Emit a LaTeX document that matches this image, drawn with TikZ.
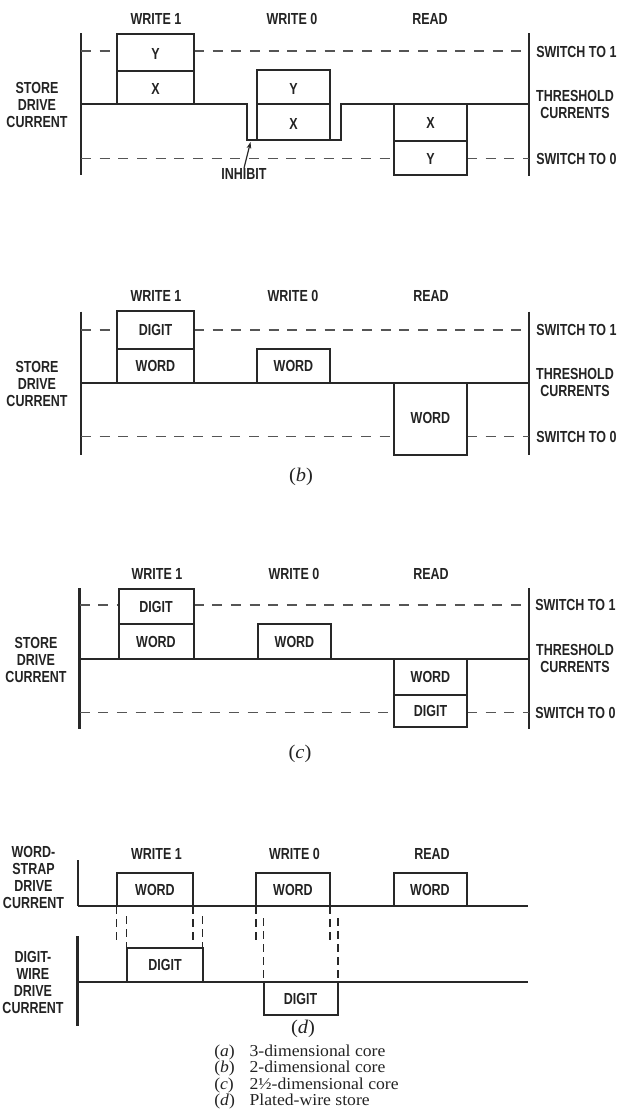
\documentclass[tikz,border=0pt]{standalone}
\usepackage{fontspec}
\usepackage{xcolor}
\usetikzlibrary{arrows.meta}
\newfontfamily\lblfont[FakeStretch=0.78]{Liberation Sans}
\newfontfamily\capfont[FakeStretch=1.06]{Liberation Serif}
\definecolor{ink}{RGB}{35,35,35}
\definecolor{trace}{RGB}{40,40,40}
\definecolor{lvlgray}{RGB}{85,85,85}

\begin{document}
\begin{tikzpicture}[x=0.75pt, y=-0.75pt,
    every node/.style={font={\lblfont\bfseries\fontsize{12}{12.75}\selectfont}, text=ink, inner sep=0pt},
    multi/.style={align=center},
    side/.style={anchor=west},
    fig/.style={font={\capfont\fontsize{14.5}{15}\selectfont}},
    axis/.style={line width=1.8pt, trace},
    wave/.style={line width=1.5pt, trace},
    lvl/.style={line width=1.3pt, lvlgray, dash pattern=on 7.5pt off 6.5pt},
    cue/.style={line width=1.3pt, trace, dash pattern=on 6pt off 3.75pt},
    arr/.style={-{Stealth[length=5pt, width=3.5pt]}, line width=0.9pt, trace}]
  \useasboundingbox (0,0) rectangle (620,1111);

  % (a)
  \draw[axis] (81,33) -- (81,175);
  \draw[axis] (529,33) -- (529,176);
  \draw[lvl] (81,51) -- (117,51) (194,51) -- (529,51);
  \draw[lvl] (81,158.5) -- (394,158.5) (467,158.5) -- (529,158.5);
  \draw[wave] (81,104) -- (247,104) -- (247,140) -- (257,140);
  \draw[wave] (330,140) -- (341,140) -- (341,104) -- (529,104);
  \draw[wave] (117,34) rectangle (194,104) (117,71) -- (194,71);
  \draw[wave] (257,70) rectangle (330,140) (257,104) -- (330,104);
  \draw[wave] (394,104) rectangle (467,175) (394,141) -- (467,141);
  \node (ya1) at (155.5,54) {Y};
  \node (xa1) at (155.5,89) {X};
  \node (ya0) at (293.5,88.5) {Y};
  \node (xa0) at (293.5,123.5) {X};
  \node (xar) at (430.5,123) {X};
  \node (yar) at (430.5,159) {Y};
  \node (w1a) at (156,19) {WRITE 1};
  \node (w0a) at (292,19) {WRITE 0};
  \node (rda) at (430,18.5) {READ};
  \node[multi] (sda) at (37,105) {STORE\\DRIVE\\CURRENT};
  \node[side] (s1a) at (536,51.5) {SWITCH TO 1};
  \node[multi] (tha) at (575,104) {THRESHOLD\\CURRENTS};
  \node[side] (s0a) at (536,158.5) {SWITCH TO 0};
  \node (inh) at (244,174) {INHIBIT};
  \coordinate (notch) at (250.5,142);
  \draw[arr] (inh.north) -- (notch);

  % (b)
  \draw[axis] (81,311.5) -- (81,455);
  \draw[axis] (529,311.5) -- (529,455);
  \draw[lvl] (81,330) -- (117,330) (194,330) -- (529,330);
  \draw[lvl] (81,436.5) -- (394,436.5) (467,436.5) -- (529,436.5);
  \draw[wave] (81,382.5) -- (529,382.5);
  \draw[wave] (117,311) rectangle (194,382.5) (117,349) -- (194,349);
  \draw[wave] (257,348.5) rectangle (330,382.5);
  \draw[wave] (394,382.5) rectangle (467,454.5);
  \node (dgb1) at (155.5,330) {DIGIT};
  \node (wdb1) at (155.5,366) {WORD};
  \node (wdb0) at (293.5,366) {WORD};
  \node (wdbr) at (430.5,418) {WORD};
  \node (w1b) at (156,296) {WRITE 1};
  \node (w0b) at (293,296) {WRITE 0};
  \node (rdb) at (431,296) {READ};
  \node[multi] (sdb) at (37,384) {STORE\\DRIVE\\CURRENT};
  \node[side] (s1b) at (536,330) {SWITCH TO 1};
  \node[multi] (thb) at (575,382.5) {THRESHOLD\\CURRENTS};
  \node[side] (s0b) at (536,436.5) {SWITCH TO 0};
  \node[fig] (capb) at (301,477) {(\textit{b})};

  % (c)
  \draw[axis] (79.5,588) -- (79.5,728.5);
  \draw[axis] (529,588) -- (529,728.5);
  \draw[lvl] (79.5,605) -- (118.5,605) (193.5,605) -- (529,605);
  \draw[lvl] (79.5,712.5) -- (394,712.5) (467,712.5) -- (529,712.5);
  \draw[wave] (79.5,658.5) -- (529,658.5);
  \draw[wave] (118.5,588.5) rectangle (193.5,658.5) (118.5,624) -- (193.5,624);
  \draw[wave] (258,624) rectangle (331,658.5);
  \draw[wave] (394,658.5) rectangle (467,726.5) (394,694.5) -- (467,694.5);
  \node (dgc1) at (156,606.5) {DIGIT};
  \node (wdc1) at (156,641.5) {WORD};
  \node (wdc0) at (294.5,641.5) {WORD};
  \node (wdcr) at (430.5,676.5) {WORD};
  \node (dgcr) at (430.5,711) {DIGIT};
  \node (w1c) at (157,574) {WRITE 1};
  \node (w0c) at (294,574) {WRITE 0};
  \node (rdc) at (431,574) {READ};
  \node[multi] (sdc) at (36,660) {STORE\\DRIVE\\CURRENT};
  \node[side] (s1c) at (535,605) {SWITCH TO 1};
  \node[multi] (thc) at (575,658) {THRESHOLD\\CURRENTS};
  \node[side] (s0c) at (535,712.5) {SWITCH TO 0};
  \node[fig] (capc) at (300,754) {(\textit{c})};

  % (d)
  \draw[axis] (78,860) -- (78,906);
  \draw[wave] (78,906) -- (528,906);
  \draw[wave] (116.5,872.5) rectangle (193,906);
  \draw[wave] (256,872.5) rectangle (330,906);
  \draw[wave] (393.5,872.5) rectangle (466.5,906);
  \draw[axis] (77.5,936) -- (77.5,1026);
  \draw[wave] (77.5,981.5) -- (528,981.5);
  \draw[wave] (126.5,947.5) rectangle (202.5,981.5);
  \draw[wave] (263.5,981.5) rectangle (338,1015);
  \draw[cue] (116.5,906) -- (116.5,940) (193,906) -- (193,940) (256,906) -- (256,940) (330,906) -- (330,940);
  \draw[cue] (126.5,916) -- (126.5,947.5) (202.5,916) -- (202.5,947.5);
  \draw[cue] (263.5,918) -- (263.5,981.5) (338,918) -- (338,981.5);
  \node (wdd1) at (155,890) {WORD};
  \node (wdd0) at (293,890) {WORD};
  \node (wddr) at (430,890) {WORD};
  \node (dgd1) at (165,965) {DIGIT};
  \node (dgd0) at (300.5,998.5) {DIGIT};
  \node (w1d) at (156.5,854) {WRITE 1};
  \node (w0d) at (294.5,854) {WRITE 0};
  \node (rdd) at (432,854) {READ};
  \node[multi] (wsd) at (33.5,877.5) {WORD-\\STRAP\\DRIVE\\CURRENT};
  \node[multi] (dwd) at (33,982) {DIGIT-\\WIRE\\DRIVE\\CURRENT};
  \node[fig] (capd) at (303,1029) {(\textit{d})};

  \node[anchor=north west, font={\capfont\fontsize{12.5}{11.3}\selectfont}] (key) at (214,1045) {%
    \begin{tabular}{@{}l@{\hspace{11pt}}l@{}}
      (\textit{a}) & 3-dimensional core\\
      (\textit{b}) & 2-dimensional core\\
      (\textit{c}) & 2½-dimensional core\\
      (\textit{d}) & Plated-wire store
    \end{tabular}};
\end{tikzpicture}
\end{document}
